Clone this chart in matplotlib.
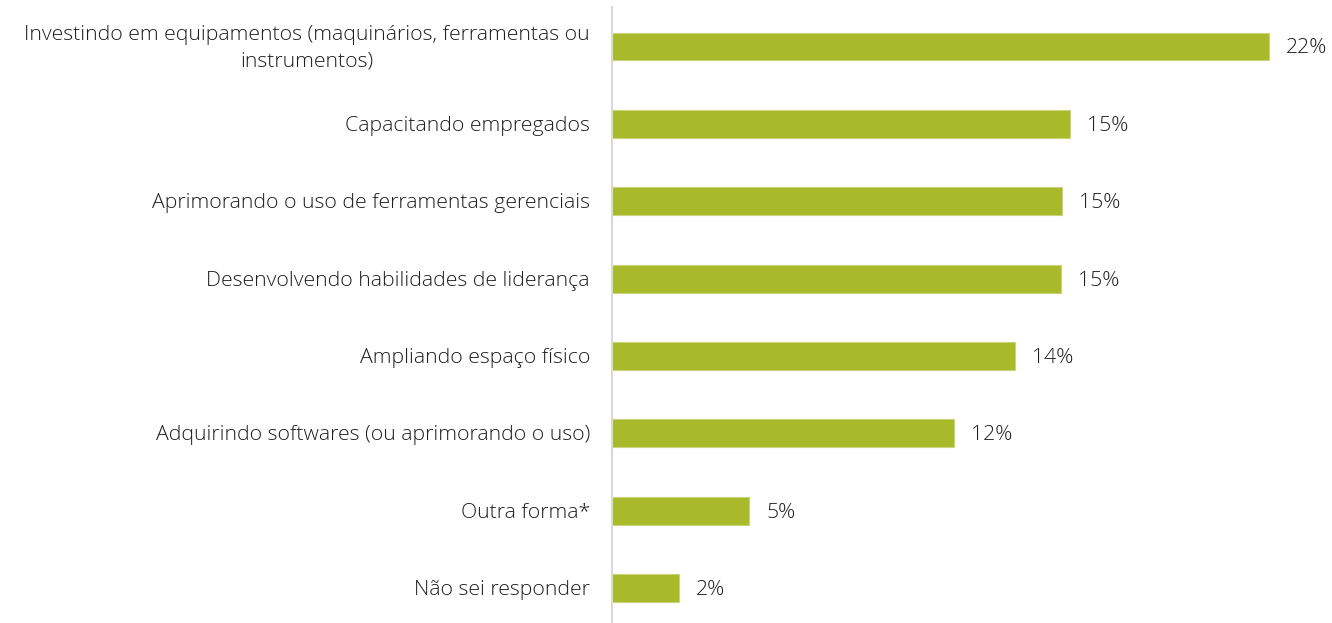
import matplotlib
matplotlib.use("Agg")
import matplotlib.pyplot as plt
from matplotlib.transforms import offset_copy

categories = [
    "Investindo em equipamentos (maquinários, ferramentas ou\ninstrumentos)",
    "Capacitando empregados",
    "Aprimorando o uso de ferramentas gerenciais",
    "Desenvolvendo habilidades de liderança",
    "Ampliando espaço físico",
    "Adquirindo softwares (ou aprimorando o uso)",
    "Outra forma*",
    "Não sei responder",
]
values = [22.0, 15.34, 15.07, 15.03, 13.5, 11.45, 4.59, 2.24]
value_labels = ["22%", "15%", "15%", "15%", "14%", "12%", "5%", "2%"]

bar_color = "#A8B92A"
text_color = "#1F1F1F"

plt.rcParams['font.family'] = ['Open Sans', 'DejaVu Sans']
FS = 15.3
FW = "light"

fig = plt.figure(figsize=(13.32, 6.23), dpi=100)
ax = fig.add_axes([612 / 1332, 0.0, 720 / 1332, 1 - 7 / 623])

ypos = list(range(len(categories)))
ax.barh(ypos, values, height=0.36, color=bar_color, edgecolor="#C9D47A", linewidth=0.8)

ax.set_xlim(0, 720 / 29.86)
ax.set_ylim(len(categories) - 1 + 0.45, -0.51)

for y, v, lab in zip(ypos, values, value_labels):
    ax.annotate(lab, xy=(v, y), xytext=(17, -2), textcoords="offset pixels",
                va="center", ha="left", fontsize=FS, color=text_color, fontweight=FW)

# category labels as text for control of line spacing
label_trans = offset_copy(ax.get_yaxis_transform(), fig=fig, x=-22, y=-2, units="dots")
for y, cat in zip(ypos, categories):
    ax.text(0, y, cat, transform=label_trans, ha="right", va="center",
            multialignment="center", linespacing=1.4,
            fontsize=FS, color=text_color, fontweight=FW)

ax.set_yticks([])
ax.set_xticks([])

for s in ["top", "right", "bottom"]:
    ax.spines[s].set_visible(False)
ax.spines["left"].set_color("#D9D9D9")
ax.spines["left"].set_linewidth(1.5)

fig.savefig("out.png", dpi=100)
